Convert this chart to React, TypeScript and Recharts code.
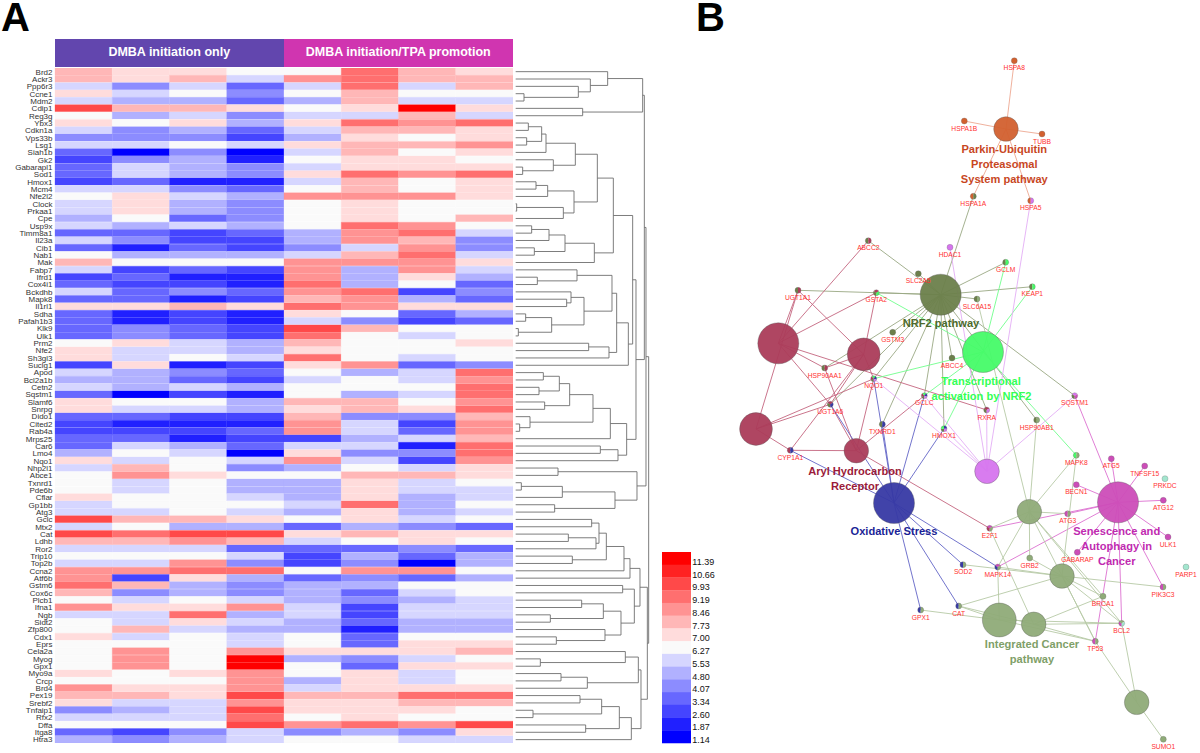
import { Bar, BarChart, Cell, Scatter, ScatterChart, XAxis, YAxis, ZAxis } from 'recharts';

const FONT = '"Liberation Sans", Arial, sans-serif';

// heatmap: level is the number of colour steps above (+) or below (-) the 6.27 midpoint
const genes = [
  'Brd2', 'Ackr3', 'Ppp6r3', 'Ccne1', 'Mdm2', 'Cdip1', 'Reg3g', 'Ybx3', 'Cdkn1a', 'Vps33b',
  'Lsg1', 'Siah1b', 'Gk2', 'Gabarapl1', 'Sod1', 'Hmox1', 'Mcm4', 'Nfe2l2', 'Clock', 'Prkaa1',
  'Cpe', 'Usp9x', 'Timm8a1', 'Il23a', 'Cib1', 'Nab1', 'Mak', 'Fabp7', 'Ifrd1', 'Cox4i1',
  'Bckdhb', 'Mapk8', 'Il1rl1', 'Sdha', 'Pafah1b3', 'Klk9', 'Ulk1', 'Prm2', 'Nfe2', 'Sh3gl3',
  'Suclg1', 'Apod', 'Bcl2a1b', 'Cetn2', 'Sqstm1', 'Slamf6', 'Snrpg', 'Dido1', 'Cited2', 'Rab4a',
  'Mrps25', 'Car6', 'Lmo4', 'Nqo1', 'Nhp2l1', 'Abce1', 'Txnrd1', 'Pde6b', 'Cflar', 'Gp1bb',
  'Atg3', 'Gclc', 'Mtx2', 'Cat', 'Ldhb', 'Ror2', 'Trip10', 'Top2b', 'Ccna2', 'Atf6b',
  'Gstm6', 'Cox6c', 'Plcb1', 'Ifna1', 'Ngb', 'Sidt2', 'Zfp800', 'Cdx1', 'Eprs', 'Cela2a',
  'Myog', 'Gpx1', 'Myo9a', 'Crcp', 'Brd4', 'Pex19', 'Srebf2', 'Tnfaip1', 'Rfx2', 'Dffa',
  'Itga8', 'Htra3',
];

const initiationLevels = [
  [2, 1, 1, 0], [2, 1, 2, -1], [-1, -3, -1, -4], [1, -1, 0, -3], [-1, -2, -2, -4],
  [5, 2, 2, 1], [0, -2, -1, -3], [1, 0, 1, -2], [-1, -3, -2, -4], [-3, -3, -3, -5],
  [-1, -1, 0, -1], [-4, -7, -3, -7], [-5, -3, -2, -6], [-4, -1, -2, -3], [-4, -1, -2, -3],
  [-5, -4, -6, -6], [-1, -1, -3, -4], [0, 1, -1, -2], [-1, 1, -2, -3], [-1, 1, -2, -3],
  [-2, 0, -4, -3], [-1, -2, -1, -2], [-4, -4, -5, -4], [-1, -3, -5, -5], [-4, -6, -4, -5],
  [0, -2, -2, -2], [2, 0, 0, 0], [-1, -5, -4, -5], [-5, -4, -6, -6], [-4, -5, -5, -6],
  [-1, -4, -3, -4], [-4, -4, -6, -5], [1, 1, 2, 1], [-4, -6, -5, -6], [-4, -6, -5, -6],
  [-4, -3, -4, -5], [-4, -3, -4, -5], [0, 1, -1, -2], [1, -1, -1, -2], [1, -1, 0, -1],
  [-5, 1, -6, -5], [-1, -2, -3, -4], [-2, -2, -4, -5], [-1, -2, -1, -2], [-4, -7, -5, -6],
  [1, 0, 0, -2], [1, -1, -1, -2], [-4, -4, -5, -5], [-5, -6, -6, -6], [-5, -5, -5, -4],
  [-4, -4, -6, -5], [-4, -1, -2, -4], [-2, 0, -1, -7], [1, -1, 0, -1], [-1, 2, 0, -3],
  [0, 3, 1, 0], [0, -1, 0, -2], [0, -1, 0, -2], [1, 0, 0, -1], [-1, 0, 0, 0],
  [-1, -1, 0, -1], [5, 2, 2, 1], [-1, 0, -2, -2], [5, 4, 5, 5], [2, 2, 3, 2],
  [-1, -1, -1, -4], [0, 0, 0, -1], [-1, -1, 3, -3], [3, 3, 4, 4], [3, -5, 1, -2],
  [4, 2, -2, -3], [2, -3, -2, -3], [0, -1, 0, -1], [3, 1, 1, 3], [-1, -1, 4, -2],
  [0, -1, 1, -1], [0, 2, -1, -2], [1, -1, 0, -1], [0, 0, 0, -1], [0, 3, 0, 3],
  [0, 3, 0, 7], [0, 3, 0, 7], [1, 0, 1, 3], [0, 0, 0, 3], [3, 1, 1, 3],
  [2, 2, 1, 5], [1, -1, -1, 3], [-3, -2, -1, 5], [-1, -1, -1, 4], [0, 0, 0, 5],
  [-4, -5, -3, -1], [-2, -3, -2, -1],
];

const promotionLevels = [
  [0, 4, 2, 1], [3, 4, 2, 2], [-1, 4, -1, 2], [0, 2, 0, 0], [-2, 2, -1, -1],
  [0, 1, 7, 1], [-1, -1, 2, -1], [1, 4, 3, 4], [-1, 2, 2, 1], [-2, 1, 0, 1],
  [1, 2, 2, 3], [-1, 2, 0, 1], [0, 1, 1, 0], [-1, 1, 1, 1], [1, 4, 3, 4],
  [-1, 2, 0, 1], [0, 2, 0, 1], [3, 3, 3, 1], [0, 1, 0, 0], [0, 1, 0, 0],
  [0, 1, 0, 2], [0, 4, 3, 0], [-2, 3, 4, -1], [-2, 3, 2, -3], [-3, -1, 3, -3],
  [-1, 2, 4, -1], [3, 3, 3, 1], [3, -2, 3, -1], [3, -2, 1, -2], [4, -2, 0, -4],
  [3, 4, -5, -3], [2, 3, -2, -4], [4, 3, 1, 1], [1, 0, -4, -2], [-1, -3, -5, -4],
  [5, 2, 0, 0], [4, 0, -1, 0], [2, 0, 0, 1], [1, 0, 0, 0], [4, 0, -1, 0],
  [1, 3, -4, -3], [0, -2, -1, 4], [-1, 0, -1, 3], [0, 0, 0, 4], [0, -2, -1, 4],
  [2, 2, 0, 3], [1, 2, 1, 4], [2, -3, -3, 2], [3, -1, -5, 3], [3, -1, -4, 3],
  [-5, -2, -1, 2], [-1, -1, -6, 4], [1, -3, -3, 4], [3, -1, -5, 3], [-2, 0, -1, 1],
  [0, 2, 2, 1], [-2, 1, -1, 0], [-2, 1, -1, -1], [-2, 1, -2, -1], [-1, 4, -2, 0],
  [-2, 1, -2, -1], [0, 1, -1, 0], [-4, -2, -3, -4], [1, 2, 1, 1], [-1, 0, 1, 0],
  [-4, -4, -3, -4], [-5, -2, -4, -2], [-5, -3, -7, -2], [0, 3, 3, 0], [-4, -3, -4, -2],
  [-2, -2, 0, 0], [-2, -4, -1, 0], [-2, -3, -2, -1], [-1, -5, -1, -1], [-1, -5, -1, -1],
  [-2, -4, -2, -2], [-2, -6, -2, -2], [0, -4, 0, 0], [0, -4, 1, 1], [1, 1, 1, 2],
  [-2, -3, -1, 0], [0, -4, 1, 1], [0, 1, -1, 0], [-2, 1, -1, 0], [-1, 1, 1, 1],
  [2, 2, 4, 4], [1, 1, 2, 2], [1, 1, 1, 0], [0, 1, 0, 0], [3, 4, 3, 5],
  [-3, -2, -3, 1], [0, 0, -1, -1],
];

const scaleLabels = ['11.39', '10.66', '9.93', '9.19', '8.46', '7.73', '7.00', '6.27', '5.53', '4.80', '4.07', '3.34', '2.60', '1.87', '1.14'];
const scaleLevels = [7, 6, 5, 4, 3, 2, 1, 0, -1, -2, -3, -4, -5, -6, -7];
const scaleColors = ['#FF0000', '#FF2222', '#FF4949', '#FF6F6F', '#FF9393', '#FFB7B7', '#FFDCDC', '#FAFAFA', '#D6D6FF', '#B1B1FF', '#8C8CFF', '#6767FF', '#4545FF', '#2020FF', '#0000FF'];
const levelColor = (level: number) => scaleColors[7 - level];

// dendrogram: [child, child, height], a positive child is a row number, a negative one an earlier merge
const leafHeight = 17;
const merges = [
  [4, 5, 42], [3, -1, 205], [2, -2, 241], [1, -3, 293], [6, 7, 218], [-4, -5, 398], [8, 9, 55],
  [10, 11, 50], [-7, -8, 95], [-9, 12, 108], [14, 15, 38], [13, -11, 130], [-10, -12, 196],
  [16, 17, 78], [-14, 18, 113], [19, 20, 20], [-16, 21, 160], [-15, -17, 192], [-13, -18, 262],
  [22, 23, 65], [-20, 24, 117], [25, 26, 73], [-21, -22, 165], [-23, 27, 253], [-19, -24, 310],
  [29, 30, 82], [28, -26, 201], [32, 33, 170], [31, -28, 183], [34, 35, 47], [36, 37, 25],
  [-30, -31, 125], [-29, -32, 222], [-27, -33, 306], [38, 39, 236], [-35, 40, 297], [-34, -36, 320],
  [-37, 41, 355], [-25, -38, 368], [42, 43, 100], [44, 45, 87], [-40, -41, 148], [46, 47, 104],
  [-42, -43, 179], [49, 50, 29], [48, -45, 60], [-44, -46, 249], [-47, 51, 301], [52, 53, 271],
  [-49, 54, 324], [-48, -50, 350], [-39, -51, 378], [-6, -52, 403], [55, 56, 144], [57, 58, 34],
  [-55, 59, 157], [60, 61, 134], [-56, -57, 315], [-54, -58, 381], [-53, -59, 408], [62, 63, 245],
  [64, 65, 175], [-62, 66, 258], [-61, -63, 267], [67, 68, 187], [-64, -65, 289], [-66, 69, 342],
  [-67, 70, 360], [71, 72, 338], [73, 74, 215], [75, 76, 121], [-70, -71, 280], [78, 79, 139],
  [77, -73, 285], [-72, -74, 333], [-69, -75, 373], [-68, -76, 390], [81, 82, 91], [80, -78, 346],
  [83, 84, 153], [-80, 85, 232], [-79, -81, 385], [86, 87, 210], [88, 89, 69], [-83, -84, 275],
  [90, 91, 227], [-85, -86, 328], [-87, 92, 364], [-82, -88, 393], [-77, -89, 412], [-60, -90, 416],
];

// network
const pathwayColors: Record<string, string> = {
  parkin: '#D2602F', nrf2: '#6C7F4B', aryl: '#AB3C5A', transcription: '#46FB68', oxidative: '#3739A4',
  purple: '#D675EE', senescence: '#CC4DB8', cancer: '#8FAB78', aqua: '#A3E6CF',
};
const linkColors: Record<string, string> = {
  parkin: '#EDA892', nrf2: '#9AA883', aryl: '#C4657F', transcription: '#70FF8C', oxidative: '#6264C6',
  purple: '#E3AEF5', senescence: '#DC70D0', cancer: '#B7CAA6',
};

const geneNodes = [
  ['HSPA8', 1014.3, 60.7], ['HSPA1B', 964.3, 121], ['TUBB', 1042, 134], ['HSPA1A', 973.3, 196.3], ['HSPA5', 1030.7, 200.7],
  ['ABCC2', 868.3, 240.7], ['HDAC1', 950, 247.3], ['GCLM', 1005.7, 262.3], ['KEAP1', 1032.3, 286.7], ['SLC2A5', 918.3, 273.7],
  ['SLC6A15', 977, 299], ['UGT1A1', 798, 290.3], ['GSTA2', 876.3, 292.7], ['GSTM3', 892.7, 332.3], ['HSP90AA1', 824.7, 368],
  ['NQO1', 873.7, 378.7], ['UGT1A6', 830.3, 404.3], ['TXNRD1', 882.3, 424.3], ['GCLC', 924.3, 395.7], ['HMOX1', 944, 428.7],
  ['ABCC4', 952, 358], ['CYP1A1', 790.3, 450.3], ['SQSTM1', 1074.7, 395.7], ['RXRA', 986.7, 410], ['HSP90AB1', 1036.7, 420],
  ['MAPK8', 1076.3, 455.3], ['ATG5', 1111.3, 458.7], ['TNFSF15', 1144.7, 466], ['PRKDC', 1165, 478.7], ['BECN1', 1076.3, 484.7],
  ['ATG12', 1163.3, 500.3], ['ATG3', 1067.7, 513.7], ['ULK1', 1168, 537], ['E2F1', 989.7, 528.3], ['GABARAP', 1077.3, 552.3],
  ['GRB2', 1029.7, 558], ['SOD2', 963, 564.7], ['MAPK14', 997.7, 567], ['PARP1', 1186, 567], ['PIK3C3', 1163, 587],
  ['BRCA1', 1103, 596.3], ['GPX1', 920.7, 610], ['CAT', 958.7, 606], ['BCL2', 1121.7, 623.3], ['TP53', 1095.3, 641.3],
  ['SUMO1', 1163.3, 739.3],
];

const hubNodes = [
  ['parkin', 'parkin', 1006, 129, 475],
  ['nrf2', 'nrf2', 940.7, 294.7, 1320],
  ['aryl1', 'aryl', 778.3, 343.3, 1320],
  ['aryl2', 'aryl', 863.7, 354.3, 845],
  ['aryl3', 'aryl', 756, 429, 845],
  ['aryl4', 'aryl', 856.3, 450.7, 475],
  ['transcription', 'transcription', 983, 352, 1320],
  ['oxidative', 'oxidative', 894, 503, 1320],
  ['purple', 'purple', 987, 471.3, 475],
  ['senescence', 'senescence', 1118, 502.3, 1320],
  ['cancer1', 'cancer', 1029.3, 511.7, 475],
  ['cancer2', 'cancer', 1062, 576, 475],
  ['cancer3', 'cancer', 999.3, 620, 900],
  ['cancer4', 'cancer', 1033.7, 624.3, 475],
  ['cancer5', 'cancer', 1136.7, 702.3, 475],
];

const hubLinks: Record<string, string[]> = {
  parkin: ['HSPA8', 'HSPA1B', 'TUBB', 'HSPA1A', 'HSPA5'],
  nrf2: ['HSPA1A', 'ABCC2', 'SLC2A5', 'UGT1A1', 'GSTA2', 'GCLM', 'KEAP1', 'SLC6A15', 'GSTM3', 'HSP90AA1', 'NQO1', 'UGT1A6', 'TXNRD1', 'GCLC', 'HMOX1', 'ABCC4', 'RXRA', 'HSP90AB1', 'SQSTM1'],
  aryl1: ['UGT1A1', 'ABCC2', 'GSTA2', 'HSP90AA1', 'UGT1A6', 'RXRA'],
  aryl2: ['UGT1A1', 'GSTA2', 'HSP90AA1', 'UGT1A6', 'CYP1A1', 'NQO1'],
  aryl3: ['UGT1A1', 'UGT1A6', 'NQO1', 'CYP1A1'],
  aryl4: ['HSP90AA1', 'UGT1A6', 'CYP1A1', 'NQO1', 'GCLC', 'E2F1'],
  transcription: ['GSTA2', 'NQO1', 'GCLC', 'HMOX1', 'GCLM', 'KEAP1', 'MAPK8'],
  oxidative: ['CYP1A1', 'UGT1A6', 'NQO1', 'TXNRD1', 'GCLC', 'HMOX1', 'GPX1', 'CAT', 'SOD2', 'MAPK14'],
  purple: ['HDAC1', 'HSPA5', 'NQO1', 'GCLC', 'HMOX1', 'RXRA', 'SQSTM1'],
  senescence: ['SQSTM1', 'ATG5', 'TNFSF15', 'BECN1', 'ATG12', 'ULK1', 'ATG3', 'E2F1', 'MAPK14', 'GABARAP', 'PIK3C3', 'TP53', 'BCL2'],
  cancer1: ['SLC6A15', 'HSP90AB1', 'MAPK8', 'E2F1', 'ATG3', 'MAPK14', 'GRB2', 'BRCA1', 'BCL2', 'TP53'],
  cancer2: ['GRB2', 'MAPK14', 'PIK3C3', 'MAPK8', 'BCL2', 'CAT', 'BRCA1', 'TP53', 'SOD2'],
  cancer3: ['MAPK14', 'CAT', 'GPX1', 'TP53', 'BCL2'],
  cancer4: ['E2F1', 'BRCA1', 'BCL2', 'TP53', 'CAT'],
  cancer5: ['SUMO1', 'BCL2', 'TP53'],
};
const extraPathways: Record<string, string[]> = { PRKDC: ['aqua'], PARP1: ['aqua'], BCL2: ['aqua'] };

const pathwayTitles = [
  ['Parkin-Ubiquitin', 1004.3, 149, '#C8471F'], ['Proteasomal', 1004.3, 164, '#C8471F'], ['System pathway', 1004.3, 179, '#C8471F'],
  ['NRF2 pathway', 941, 323.3, '#4C6B2C'],
  ['Transcriptional', 981, 381, '#33FF55'], ['activation by NRF2', 981.5, 395.7, '#33FF55'],
  ['Aryl Hydrocarbon', 855, 470.7, '#9B1B3A'], ['Receptor', 855, 485.7, '#9B1B3A'],
  ['Oxidative Stress', 894, 531, '#1B1F96'],
  ['Senescence and', 1116.7, 530.7, '#C02AB0'], ['Autophagy in', 1116.7, 545.7, '#C02AB0'], ['Cancer', 1116.7, 560.7, '#C02AB0'],
  ['Integrated Cancer', 1032, 644.3, '#7FA068'], ['pathway', 1032, 659.3, '#7FA068'],
];

// built from the lists above
const sampleKeys = ['s0', 's1', 's2', 's3', 's4', 's5', 's6', 's7'];
const sampleLevels = (row: number) => [...initiationLevels[row], ...promotionLevels[row]];
const heatRows = genes.map((gene) => ({ gene, s0: 1, s1: 1, s2: 1, s3: 1, s4: 1, s5: 1, s6: 1, s7: 1 }));
const scaleRows = scaleLabels.map((label) => ({ label, span: 1 }));

const mergeNodes: { h: number; y: number }[] = [];
const nodeOf = (child: number) => (child > 0 ? { h: leafHeight, y: child - 0.5 } : mergeNodes[-child - 1]);
const dendroSegments = merges.map(([a, b, h]) => {
  const na = nodeOf(a);
  const nb = nodeOf(b);
  mergeNodes.push({ h, y: (na.y + nb.y) / 2 });
  return [na, { h, y: na.y }, { h, y: nb.y }, nb];
});

const genePoints = geneNodes.map(([name, x, y]) => {
  const owners = hubNodes.filter((hub) => hubLinks[hub[0] as string].includes(name as string)).map((hub) => hub[1] as string);
  return { name, x, y, pathways: [...new Set(owners), ...(extraPathways[name as string] ?? [])] };
});
const hubPoints = hubNodes.map(([id, pathway, x, y, area]) => ({ id, pathway, x, y, area }));
const linkSeries = hubPoints.flatMap((hub) =>
  hubLinks[hub.id as string].map((name) => ({
    key: `${hub.id}-${name}`,
    stroke: linkColors[hub.pathway as string],
    points: [{ x: hub.x, y: hub.y }, genePoints.find((g) => g.name === name)!],
  })),
);
const hubGroups = Object.keys(linkColors).map((pathway) => ({ pathway, points: hubPoints.filter((h) => h.pathway === pathway) }));
const titlePoints = pathwayTitles.map(([text, x, y, color]) => ({ text, x, y, color }));

const NoDot = () => null;

function GeneShape(props: any) {
  const { cx, cy, payload } = props;
  const r = 3;
  const slices: string[] = payload.pathways;
  const step = (Math.PI * 2) / slices.length;
  return (
    <g>
      {slices.length === 1 ? (
        <circle cx={cx} cy={cy} r={r} fill={pathwayColors[slices[0]]} />
      ) : (
        slices.map((pathway, i) => {
          const a0 = Math.PI / 2 + i * step;
          const a1 = a0 + step;
          const large = step > Math.PI ? 1 : 0;
          const d = `M${cx},${cy}L${cx + r * Math.cos(a0)},${cy + r * Math.sin(a0)}A${r},${r} 0 ${large} 1 ${cx + r * Math.cos(a1)},${cy + r * Math.sin(a1)}Z`;
          return <path key={pathway} d={d} fill={pathwayColors[pathway]} />;
        })
      )}
      <circle cx={cx} cy={cy} r={r} fill="none" stroke="#666" strokeWidth={0.4} strokeOpacity={0.7} />
      <text x={cx} y={cy + 7.2} textAnchor="middle" dominantBaseline="central" fontSize={6.7} fontFamily={FONT} fill="#FF3030">
        {payload.name}
      </text>
    </g>
  );
}

function TitleShape(props: any) {
  const { cx, cy, payload } = props;
  return (
    <text x={cx} y={cy} textAnchor="middle" dominantBaseline="central" fontSize={11.1} fontWeight="bold" fontFamily={FONT} fill={payload.color}>
      {payload.text}
    </text>
  );
}

function HeatmapPanel() {
  return (
    <div style={{ position: 'absolute', left: 0, top: 67.7 }}>
      <BarChart width={513} height={675.3} data={heatRows} layout="vertical" barCategoryGap={0} barGap={0} margin={{ top: 0, right: 0, bottom: 0, left: 0 }}>
        <XAxis type="number" hide domain={[0, 8]} />
        <YAxis
          type="category"
          dataKey="gene"
          width={55}
          interval={0}
          axisLine={false}
          tickLine={false}
          tickSize={0}
          tickMargin={2.5}
          tick={{ fontSize: 8, fill: '#333', fontFamily: FONT }}
        />
        {sampleKeys.map((key, col) => (
          <Bar key={key} dataKey={key} stackId="heat" isAnimationActive={false}>
            {genes.map((gene, row) => {
              const fill = levelColor(sampleLevels(row)[col]);
              return <Cell key={gene} fill={fill} stroke={fill} strokeWidth={0.3} />;
            })}
          </Bar>
        ))}
      </BarChart>
    </div>
  );
}

function DendrogramPanel() {
  return (
    <div style={{ position: 'absolute', left: 510, top: 67.7 }}>
      <ScatterChart width={150} height={675.3} margin={{ top: 0, right: 0, bottom: 0, left: 0 }}>
        <XAxis type="number" dataKey="h" hide domain={[0, 450]} />
        <YAxis type="number" dataKey="y" hide reversed domain={[0, 92]} />
        {dendroSegments.map((points, i) => (
          <Scatter key={i} data={points} shape={NoDot} line={{ stroke: '#6E6E6E', strokeWidth: 0.9 }} isAnimationActive={false} />
        ))}
      </ScatterChart>
    </div>
  );
}

function ScalePanel() {
  return (
    <div style={{ position: 'absolute', left: 662.3, top: 552.3 }}>
      <BarChart width={60} height={200} data={scaleRows} layout="vertical" barCategoryGap={0} margin={{ top: 0, right: 0, bottom: 9, left: 0 }}>
        <XAxis type="number" hide domain={[0, 1]} />
        <YAxis
          type="category"
          dataKey="label"
          orientation="right"
          width={31}
          interval={0}
          axisLine={false}
          tickLine={false}
          tickSize={0}
          tickMargin={1.3}
          tick={{ fontSize: 9, fill: '#111', fontFamily: FONT, dy: 3.4 }}
        />
        <Bar dataKey="span" isAnimationActive={false}>
          {scaleLevels.map((level) => (
            <Cell key={level} fill={levelColor(level)} />
          ))}
        </Bar>
      </BarChart>
    </div>
  );
}

function NetworkPanel() {
  return (
    <div style={{ position: 'absolute', left: 720, top: 0 }}>
      <ScatterChart width={480} height={753} margin={{ top: 0, right: 0, bottom: 0, left: 0 }}>
        <XAxis type="number" dataKey="x" hide domain={[720, 1200]} />
        <YAxis type="number" dataKey="y" hide reversed domain={[0, 753]} />
        <ZAxis type="number" dataKey="area" domain={[0, 1320]} range={[0, 1320]} />
        {linkSeries.map((link) => (
          <Scatter key={link.key} data={link.points} shape={NoDot} line={{ stroke: link.stroke, strokeWidth: 0.9 }} isAnimationActive={false} />
        ))}
        {hubGroups.map((group) => (
          <Scatter
            key={group.pathway}
            data={group.points}
            fill={pathwayColors[group.pathway]}
            fillOpacity={0.95}
            stroke="#555"
            strokeOpacity={0.35}
            isAnimationActive={false}
          />
        ))}
        <Scatter data={genePoints} shape={GeneShape} isAnimationActive={false} />
        <Scatter data={titlePoints} shape={TitleShape} isAnimationActive={false} />
      </ScatterChart>
    </div>
  );
}

const headerStyle = {
  position: 'absolute',
  top: 39.3,
  height: 27.4,
  lineHeight: '26px',
  color: '#fff',
  fontWeight: 'bold',
  fontSize: 12.5,
  textAlign: 'center',
} as const;

const letterStyle = { position: 'absolute', top: 0, fontSize: 40, lineHeight: '34px', fontWeight: 'bold', color: '#000' } as const;

export default function App() {
  return (
    <div style={{ position: 'absolute', left: 0, top: 0, width: 1200, height: 753, background: '#fff', overflow: 'hidden', fontFamily: FONT }}>
      <div style={{ ...letterStyle, left: 1 }}>A</div>
      <div style={{ ...letterStyle, left: 696 }}>B</div>
      <div style={{ ...headerStyle, left: 55, width: 228.5, background: '#6246AE' }}>DMBA initiation only</div>
      <div style={{ ...headerStyle, left: 283.5, width: 229.5, background: '#D035B0' }}>DMBA initiation/TPA promotion</div>
      <HeatmapPanel />
      <DendrogramPanel />
      <ScalePanel />
      <NetworkPanel />
    </div>
  );
}
